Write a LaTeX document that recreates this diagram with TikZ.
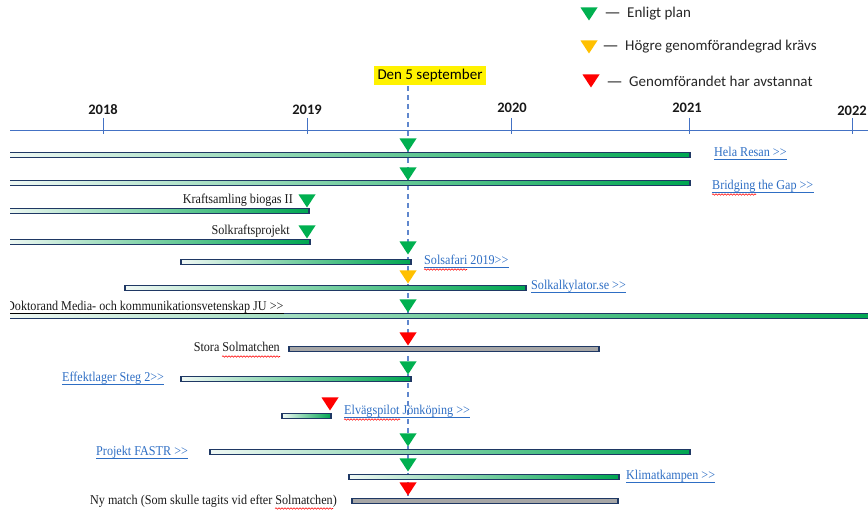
\documentclass[tikz,border=0pt]{standalone}
\usepackage{fontspec}
\setmainfont{Carlito}
\newfontfamily\barfont[FakeStretch=0.9]{Liberation Serif}
\newfontfamily\dashfont{DejaVu Sans}
\usepackage{xcolor}
\usepackage{tikz}
\usetikzlibrary{
    calc,
    decorations.pathmorphing
}
\definecolor{okgreen}{RGB}{0,176,80}
\definecolor{warnyellow}{RGB}{255,192,0}
\definecolor{stopred}{RGB}{255,0,0}
\definecolor{axisblue}{RGB}{68,114,196}
\definecolor{barnavy}{RGB}{31,56,100}
\definecolor{barlight}{RGB}{240,248,244}
\definecolor{bardark}{RGB}{0,166,81}
\definecolor{bargrey}{RGB}{166,166,166}
\definecolor{linkblue}{RGB}{46,110,196}
\newcommand{\fwd}{>\kern0pt>}
\newcommand{\lgdash}{{\dashfont —}\hspace{7pt}}
\tikzset{
    % style for the time axis and its ticks
    axis/.style={
        draw=axisblue,
        line width=1pt
    },
    year/.style={
        inner sep=0pt,
        text=black!90,
        font=\bfseries\fontsize{14.5}{17}\selectfont
    },
    legend/.style={
        anchor=west,
        inner sep=0pt,
        text=black!85,
        font=\fontsize{15}{18}\selectfont
    },
    nowline/.style={
        draw=axisblue!85,
        line width=1.2pt,
        dash pattern=on 5pt off 4pt
    },
    % style for the bars of the projects
    bar/.style={
        draw=barnavy,
        line width=1.3pt,
        left color=barlight,
        right color=bardark
    },
    greybar/.style={
        draw=barnavy,
        line width=1.3pt,
        fill=bargrey
    },
    % style for the names of the projects
    projname/.style={
        inner sep=0pt,
        text=black!90,
        font=\barfont\fontsize{13.5}{15}\selectfont
    },
    projlink/.style={
        projname,
        text=linkblue
    },
    % style for the red wavy line under some words
    squiggle/.style={
        draw=stopred,
        line width=0.6pt,
        decorate,
        decoration={snake, amplitude=0.7pt, segment length=3pt}
    }
}

\begin{document}
\begin{tikzpicture}[x=1pt, y=-1pt]
    \useasboundingbox (0,0) rectangle (868,510);
    \clip (10,0) rectangle (868,510);
    % legend
    \foreach \x/\y/\c in {589/14/okgreen, 589/47/warnyellow, 591/81/stopred} {
        \fill[\c] (\x-8.5,\y-6.5) -- (\x+8.5,\y-6.5) -- (\x,\y+6.5) -- cycle;
    }
    \node (lgok)   at (605,14)[legend]{\lgdash Enligt plan};
    \node (lgwarn) at (603,47)[legend]{\lgdash Högre genomförandegrad krävs};
    \node (lgstop) at (607,81)[legend]{\lgdash Genomförandet har avstannat};
    % time axis
    \coordinate (axl) at (5,131);
    \coordinate (axr) at (875,131);
    \draw[axis] (axl) -- (axr);
    \foreach \x/\lx/\ly/\yr in {103.7/103/110/2018, 307/307/110/2019, 511.7/512/108/2020,
                               689.7/687/108/2021, 852/852/111/2022} {
        \draw[axis] (\x,118) -- (\x,134);
        \node (y\yr) at (\lx,\ly)[year]{\yr};
    }
    % today
    \node (today) at (430,76)[fill=yellow, minimum width=112pt, minimum height=19pt,
        inner sep=0pt, font=\fontsize{15}{18}\selectfont]{Den 5 september};
    \coordinate (nowtop) at (408,86);
    \coordinate (nowbot) at (408,497);
    \draw[nowline] (nowtop) -- (nowbot);
    % bars
    \foreach \a/\b/\y/\s in {5/690/155/bar, 5/690/183/bar, 5/309/211/bar, 5/310/242/bar,
                            181/411/262/bar, 125/526/288/bar, 5/875/316/bar,
                            289/599/349/greybar, 181/411/379/bar, 282/331/416/bar,
                            210/690/452/bar, 349/619/477/bar, 352/618/501/greybar} {
        \draw[\s] (\a,\y-2.5) rectangle (\b,\y+2.5);
    }
    % status markers
    \foreach \x/\y/\c in {408/145/okgreen, 408/174/okgreen, 307/201/okgreen, 307/232/okgreen,
                         408/248/okgreen, 408/277/warnyellow, 408/306/okgreen,
                         408/339/stopred, 408/368/okgreen, 330/404/stopred,
                         408/440/okgreen, 408/465/okgreen, 408/489/stopred} {
        \fill[\c] (\x-8.5,\y-6.5) -- (\x+8.5,\y-6.5) -- (\x,\y+6.5) -- cycle;
    }
    % names
    \node (hela)      at (714,157)[projlink, anchor=base west]{Hela Resan \fwd};
    \node (bridging)  at (712,190)[projlink, anchor=base west]{Bridging the Gap \fwd};
    \node (kraft)     at (293,204)[projname, anchor=base east]{Kraftsamling biogas II};
    \node (solkraft)  at (290,235)[projname, anchor=base east]{Solkraftsprojekt};
    \node (solsafari) at (424,265)[projlink, anchor=base west]{Solsafari 2019\fwd};
    \node (solkalk)   at (531,290)[projlink, anchor=base west]{Solkalkylator.se \fwd};
    \node (doktorand) at (6,311)[projname, anchor=base west]{Doktorand Media- och kommunikationsvetenskap JU \fwd};
    \node (stora)     at (280,352)[projname, anchor=base east]{Stora Solmatchen};
    \node (effekt)    at (62,382)[projlink, anchor=base west]{Effektlager Steg 2\fwd};
    \node (elvag)     at (344,415)[projlink, anchor=base west]{Elvägspilot Jönköping \fwd};
    \node (fastr)     at (96,456)[projlink, anchor=base west]{Projekt FASTR \fwd};
    \node (klimat)    at (626,480)[projlink, anchor=base west]{Klimatkampen \fwd};
    \node (nymatch)   at (337,504)[projname, anchor=base east]{Ny match (Som skulle tagits vid efter Solmatchen)};
    \foreach \n/\c in {hela/linkblue, bridging/linkblue, solsafari/linkblue, solkalk/linkblue,
                      doktorand/black, effekt/linkblue, elvag/linkblue, fastr/linkblue,
                      klimat/linkblue} {
        \draw[\c, line width=0.7pt] ([yshift=-2pt]\n.base west) -- ([yshift=-2pt]\n.base east);
    }
    \foreach \n/\s/\a/\b in {bridging/west/0pt/44pt, solsafari/west/0pt/43pt, stora/east/-58pt/0pt,
                            elvag/west/0pt/56pt, nymatch/east/-62pt/-4pt} {
        \draw[squiggle] ([xshift=\a, yshift=-4.5pt]\n.base \s) -- ([xshift=\b, yshift=-4.5pt]\n.base \s);
    }
\end{tikzpicture}
\end{document}
